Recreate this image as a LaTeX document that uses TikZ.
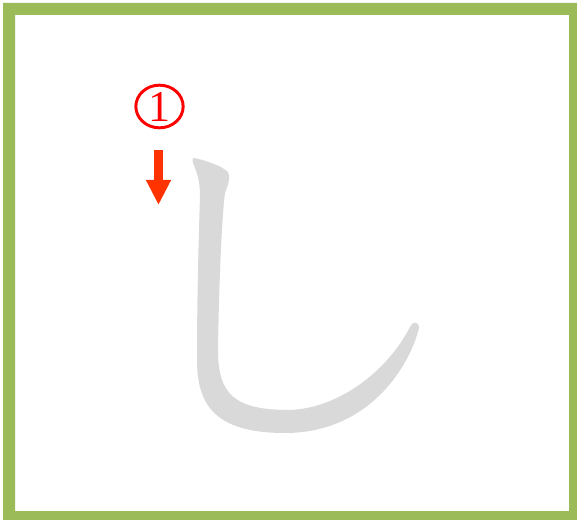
\documentclass[tikz,border=0pt]{standalone}
\usepackage{fontspec}
\newfontfamily\numfont{Liberation Serif}
\usepackage{xcolor}
\definecolor{FrameGreen}{HTML}{9BBB59}
\definecolor{StrokeGray}{HTML}{D9D9D9}
\definecolor{NumRed}{HTML}{FF0000}
\definecolor{ArrowRed}{HTML}{FF3300}
\usepackage{tikz}
\usetikzlibrary{arrows.meta, shapes.geometric}

\begin{document}
\begin{tikzpicture}[
    x=0.75pt, y=-0.75pt,
    frame/.style={fill=FrameGreen, even odd rule},
    kana/.style={fill=StrokeGray},
    stepnum/.style={ellipse, draw=NumRed, line width=2.2pt, text=NumRed, inner sep=0pt,
        minimum width=35.5pt, minimum height=32pt, font=\numfont\fontsize{33}{33}\selectfont},
    dirarrow/.style={ArrowRed, line width=6.5pt, -{Triangle[length=18.75pt, width=17.5pt]}}
]
\useasboundingbox (0,0) rectangle (577,520);
% frame
\fill[frame] (3,3) rectangle (577,520) (15,15) rectangle (569,511);
% the stroke of shi
\fill[kana] (194,158) .. controls (205,160) and (222,166) .. (228,172)
    .. controls (231,177) and (228,185) .. (225,193)
    .. controls (222,215) and (219,280) .. (218,350)
    .. controls (218,395) and (235,410) .. (290,410)
    .. controls (340,408) and (388,370) .. (410,327)
    .. controls (412,321) and (419,321) .. (419,328)
    .. controls (410,365) and (370,433) .. (285,433)
    .. controls (215,433) and (197,405) .. (197,360)
    .. controls (197,290) and (199,230) .. (200,195)
    .. controls (200,180) and (196,170) .. (193,163)
    .. controls (192,159) and (193,158) .. (194,158) -- cycle;
% stroke order
\node[stepnum] (num) at (159.5,106.5) {1};
\coordinate (arrtop) at (158.5,150);
\coordinate (arrtip) at (158.5,205);
\draw[dirarrow] (arrtop) -- (arrtip);
\end{tikzpicture}
\end{document}
